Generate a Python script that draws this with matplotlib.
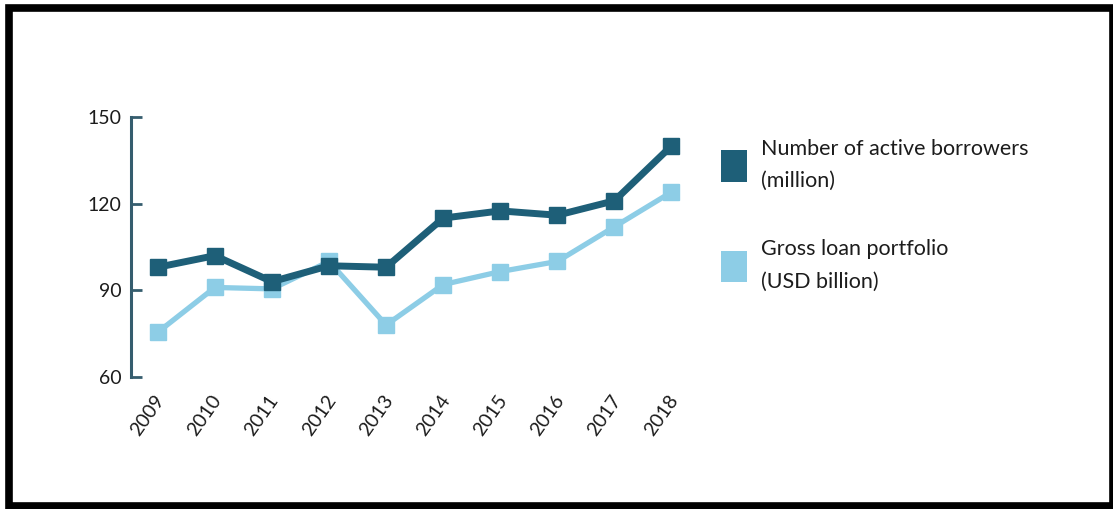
import matplotlib
matplotlib.use("Agg")
import matplotlib.pyplot as plt
from matplotlib.patches import Rectangle, Patch
from matplotlib.transforms import ScaledTranslation

years = [2009, 2010, 2011, 2012, 2013, 2014, 2015, 2016, 2017, 2018]
borrowers = [98, 102, 93, 98.5, 98, 115, 117.5, 116, 121, 140]
loan_portfolio = [75.5, 91, 90.5, 100, 78, 92, 96.5, 100, 112, 124]
y_ticks = [60, 90, 120, 150]
series_labels = ["Number of active borrowers\n(million)",
                 "Gross loan portfolio\n(USD billion)"]

dark = "#1e5f78"
light = "#8dcde6"
axis_col = "#355d6e"
text_col = "#1c1c1c"

plt.rcParams["font.family"] = ["Lato", "DejaVu Sans"]

W, H = 1113, 509
fig = plt.figure(figsize=(W / 100, H / 100), dpi=100)
fig.patch.set_facecolor("white")

ax = fig.add_axes([131 / W, 1 - 377 / H, (700 - 131) / W, (377 - 117) / H])
ax.plot(years, loan_portfolio, color=light, lw=3.8, marker="s", ms=11,
        solid_joinstyle="miter", clip_on=False, zorder=2)
ax.plot(years, borrowers, color=dark, lw=5, marker="s", ms=12,
        solid_joinstyle="miter", clip_on=False, zorder=3)

ax.set_xlim(2008.53, 2018.5)
ax.set_ylim(60, 150)
ax.set_yticks(y_ticks)
ax.set_xticks(years)
ax.set_xticklabels([str(y) for y in years], rotation=55, ha="right", va="top")

for side in ("top", "right", "bottom"):
    ax.spines[side].set_visible(False)
ax.spines["left"].set_color(axis_col)
ax.spines["left"].set_linewidth(2.2)
ax.tick_params(axis="y", direction="in", length=8, width=2, color=axis_col,
               labelsize=14, labelcolor=text_col, pad=7)
ax.tick_params(axis="x", length=0, labelsize=14, labelcolor=text_col, pad=11)
shift = ScaledTranslation(10 / 100, 0, fig.dpi_scale_trans)
for lbl in ax.get_xticklabels():
    lbl.set_transform(lbl.get_transform() + shift)

handles = [Patch(facecolor=dark, edgecolor="none"),
           Patch(facecolor=light, edgecolor="none")]
leg = fig.legend(handles, series_labels, loc="upper left",
                 bbox_to_anchor=(721 / W, 1 - 139 / H), frameon=False,
                 fontsize=15.5, handlelength=1.2, handleheight=1.9,
                 handletextpad=0.65, labelspacing=2.25, borderpad=0,
                 borderaxespad=0)
for t in leg.get_texts():
    t.set_linespacing(1.75)
    t.set_color(text_col)

# black frame around the whole graphic
fig.patches.append(Rectangle((8.5 / W, 1 - 505.5 / H), (1113 - 8.5) / W,
                             (505.5 - 8) / H, transform=fig.transFigure,
                             fill=False, edgecolor="black", lw=5.5))

fig.savefig("out.png", dpi=100)
